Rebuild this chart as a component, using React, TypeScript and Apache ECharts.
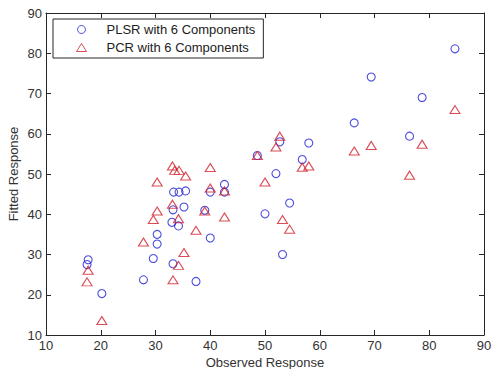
import React, { useEffect, useRef } from "react";
import * as echarts from "echarts";

const plsrX = [17.7, 17.5, 20.2, 27.8, 29.6, 30.3, 30.3, 33.2, 33.0, 33.2, 33.3, 34.3, 34.2, 35.2, 35.5, 37.4, 39.0, 40.0, 40.0, 42.6, 42.6, 48.6, 50.0, 52.0, 52.7, 53.2, 54.5, 56.8, 58.0, 66.3, 69.4, 76.4, 78.7, 84.7];
const plsrY = [28.7, 27.5, 20.3, 23.7, 29.0, 35.0, 32.6, 27.7, 38.0, 41.1, 45.5, 45.5, 37.1, 41.8, 45.8, 23.3, 41.0, 45.5, 34.1, 47.4, 45.5, 54.6, 40.1, 50.1, 58.0, 30.0, 42.8, 53.6, 57.7, 62.7, 74.1, 59.4, 69.0, 81.1];

const pcrX = [17.5, 17.7, 20.2, 27.8, 29.6, 30.3, 30.3, 33.1, 33.1, 33.2, 33.5, 34.3, 35.5, 34.2, 34.2, 35.2, 37.4, 39.0, 40.0, 40.0, 42.6, 42.6, 48.6, 50.0, 52.0, 52.7, 53.2, 54.5, 56.8, 58.0, 66.3, 69.4, 76.4, 78.7, 84.7];
const pcrY = [23.2, 26.1, 13.6, 33.1, 38.7, 48.0, 40.8, 52.0, 42.5, 23.7, 50.9, 50.9, 49.5, 38.9, 27.3, 30.5, 36.0, 40.8, 51.6, 46.5, 45.8, 39.3, 54.6, 48.0, 56.7, 59.4, 38.7, 36.3, 51.7, 52.0, 55.7, 57.1, 49.7, 57.4, 66.0];

const seriesNames = ["PLSR with 6 Components", "PCR with 6 Components"];
const xTicks = { min: 10, max: 90, interval: 10 };
const yTicks = { min: 10, max: 90, interval: 10 };

const BLUE = "#1f1fd6";
const RED = "#d0202c";
const AXIS = "#262626";
const FONT = "'Liberation Sans', Arial, Helvetica, sans-serif";

export default function App() {
  const ref = useRef<HTMLDivElement>(null);
  useEffect(() => {
    if (!ref.current) return;
    const chart = echarts.init(ref.current, null, { renderer: "svg" });
    const zip = (xs: number[], ys: number[]) => xs.map((x, i) => [x, ys[i]]);
    const axisCommon = {
      type: "value" as const,
      axisLine: { show: true, lineStyle: { color: AXIS, width: 1 } },
      axisTick: { show: true, inside: true, length: 5, lineStyle: { color: AXIS } },
      splitLine: { show: false },
    };
    chart.setOption({
      animation: false,
      backgroundColor: "#ffffff",
      textStyle: { fontFamily: FONT },
      grid: { left: 46, right: 7, top: 13, bottom: 34, containLabel: false, outerBoundsMode: "none" },
      legend: {
        orient: "vertical",
        left: 53,
        top: 19,
        padding: [4, 8, 4, 23],
        itemGap: 5,
        itemWidth: 10,
        itemHeight: 8,
        symbolKeepAspect: true,
        borderColor: AXIS,
        borderWidth: 1,
        backgroundColor: "#ffffff",
        itemStyle: { borderWidth: 1 },
        textStyle: { fontSize: 13, color: "#222", fontFamily: FONT, lineHeight: 13, padding: [0, 0, 0, 15] },
        data: seriesNames,
      },
      xAxis: [
        {
          ...axisCommon,
          position: "bottom",
          ...xTicks,
          name: "Observed Response",
          nameLocation: "middle",
          nameGap: 21,
          nameMoveOverlap: false,
          nameTextStyle: { fontSize: 13, color: "#333", fontFamily: FONT },
          axisLabel: { fontSize: 13, color: "#333", margin: 4, fontFamily: FONT },
        },
        {
          ...axisCommon,
          position: "top",
          ...xTicks,
          axisLabel: { show: false },
        },
      ],
      yAxis: [
        {
          ...axisCommon,
          position: "left",
          ...yTicks,
          name: "Fitted Response",
          nameLocation: "middle",
          nameGap: 26,
          nameMoveOverlap: false,
          nameTextStyle: { fontSize: 13, color: "#333", fontFamily: FONT },
          axisLabel: { fontSize: 13, color: "#333", margin: 4, fontFamily: FONT },
        },
        {
          ...axisCommon,
          position: "right",
          ...yTicks,
          axisLabel: { show: false },
        },
      ],
      series: [
        {
          name: seriesNames[0],
          type: "scatter",
          symbol: "circle",
          symbolSize: 8,
          itemStyle: { color: "rgba(0,0,0,0)", borderColor: BLUE, borderWidth: 1.1 },
          data: zip(plsrX, plsrY),
        },
        {
          name: seriesNames[1],
          type: "scatter",
          symbol: "triangle",
          symbolSize: [10, 8],
          itemStyle: { color: "rgba(0,0,0,0)", borderColor: RED, borderWidth: 1.1 },
          data: zip(pcrX, pcrY),
        },
      ],
    });
    return () => chart.dispose();
  }, []);
  return (
    <div
      ref={ref}
      style={{ position: "fixed", left: 0, top: 0, width: 491, height: 369, background: "#fff" }}
    />
  );
}
